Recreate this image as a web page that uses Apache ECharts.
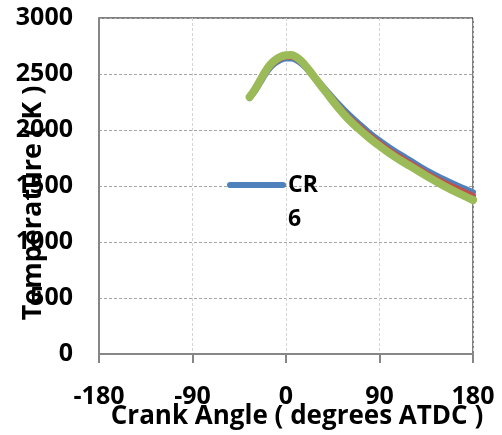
<!DOCTYPE html>
<html>
<head>
<meta charset="utf-8">
<script src="https://cdn.jsdelivr.net/npm/echarts@6/dist/echarts.min.js"></script>
<style>
  html, body { margin: 0; padding: 0; background: #fff; }
  #chart { width: 502px; height: 435px; }
</style>
</head>
<body>
<div id="chart"></div>
<script>
// Crank angle samples (degrees ATDC)
const crankAngle = [-35, -30, -25, -20, -15, -10, -5, 0, 5, 10, 15, 20, 25, 30, 40, 50, 60, 70, 80, 90, 100, 110, 120, 135, 150, 165, 180];

// In-cylinder temperature (K) for each compression ratio
const tempCR6 = [2285, 2345, 2420, 2495, 2558, 2600, 2626, 2638, 2638, 2622, 2590, 2546, 2497, 2447, 2342, 2238, 2143, 2058, 1978, 1907, 1842, 1782, 1727, 1642, 1570, 1505, 1445];
const tempCR7 = [2290, 2352, 2430, 2507, 2572, 2612, 2640, 2653, 2654, 2636, 2600, 2553, 2498, 2443, 2331, 2220, 2120, 2035, 1955, 1883, 1816, 1756, 1700, 1616, 1541, 1475, 1412];
const tempCR8 = [2295, 2360, 2440, 2520, 2585, 2627, 2655, 2668, 2670, 2650, 2612, 2560, 2500, 2440, 2320, 2202, 2097, 2010, 1930, 1858, 1790, 1730, 1675, 1590, 1512, 1440, 1375];

const seriesNames = ['CR 6', 'CR 7', 'CR 8'];
const seriesColors = ['#4f81bd', '#c0504d', '#9bbb59'];
const seriesWidths = [6, 6, 8];
const seriesValues = [tempCR6, tempCR7, tempCR8];

const xTicks = [-180, -90, 0, 90, 180];

const FONT = '"Open Sans"';

const chart = echarts.init(document.getElementById('chart'), null, { renderer: 'canvas' });

const series = seriesNames.map((name, i) => ({
  name,
  type: 'line',
  smooth: 0.4,
  showSymbol: false,
  symbol: 'none',
  data: crankAngle.map((a, k) => [a, seriesValues[i][k]]),
  lineStyle: { color: seriesColors[i], width: seriesWidths[i], cap: 'round', join: 'round' },
  itemStyle: { color: seriesColors[i] },
  z: 2 + i,
  animation: false
}));

chart.setOption({
  animation: false,
  backgroundColor: '#ffffff',
  grid: {
    left: 99, right: 29, top: 18, bottom: 81,
    containLabel: false,
    outerBoundsMode: 'none',
    show: true, borderColor: '#000000', borderWidth: 1
  },
  legend: {
    data: [seriesNames[0]],
    left: 227,
    top: 134,
    padding: 0,
    itemWidth: 53,
    itemHeight: 14,
    itemGap: 0,
    formatter: name => ' \n' + name.replace(' ', '\n'),
    textStyle: { fontFamily: FONT, fontWeight: 'bold', fontSize: 23, color: '#000', lineHeight: 34 },
    lineStyle: { width: 6, cap: 'round' },
    itemStyle: { opacity: 0 },
    selectedMode: false
  },
  xAxis: {
    type: 'value',
    min: -180, max: 180, interval: 90,
    name: 'Crank Angle ( degrees ATDC )',
    nameLocation: 'middle',
    nameGap: 50,
    nameMoveOverlap: false,
    nameTextStyle: { fontFamily: FONT, fontWeight: 'bold', fontSize: 26, color: '#000', padding: [0, 0, 0, 22] },
    axisLine: { show: true, onZero: false, lineStyle: { color: '#868686', width: 2 } },
    axisTick: { show: true, inside: false, length: 9, lineStyle: { color: '#868686', width: 2 } },
    axisLabel: {
      fontFamily: FONT, fontWeight: 'bold', fontSize: 25, color: '#000', margin: 30,
      formatter: v => (xTicks.indexOf(v) >= 0 ? String(v) : '')
    },
    splitLine: { show: true, lineStyle: { color: '#d4d4d4', type: [3, 2], width: 1 } }
  },
  yAxis: {
    type: 'value',
    min: 0, max: 3000, interval: 500,
    name: 'Temperature ( K )',
    nameLocation: 'middle',
    nameGap: 52,
    nameMoveOverlap: false,
    nameRotate: 90,
    nameTextStyle: { fontFamily: FONT, fontWeight: 'bold', fontSize: 27, color: '#000', padding: [0, 34, 0, 0] },
    axisLine: { show: true, onZero: false, lineStyle: { color: '#868686', width: 2 } },
    axisTick: { show: false },
    axisLabel: {
      fontFamily: FONT, fontWeight: 'bold', fontSize: 25, color: '#000', margin: 26,
      formatter: v => String(v)
    },
    splitLine: { show: true, lineStyle: { color: '#a6a6a6', type: [3, 2], width: 1 } }
  },
  series
});
</script>
</body>
</html>
